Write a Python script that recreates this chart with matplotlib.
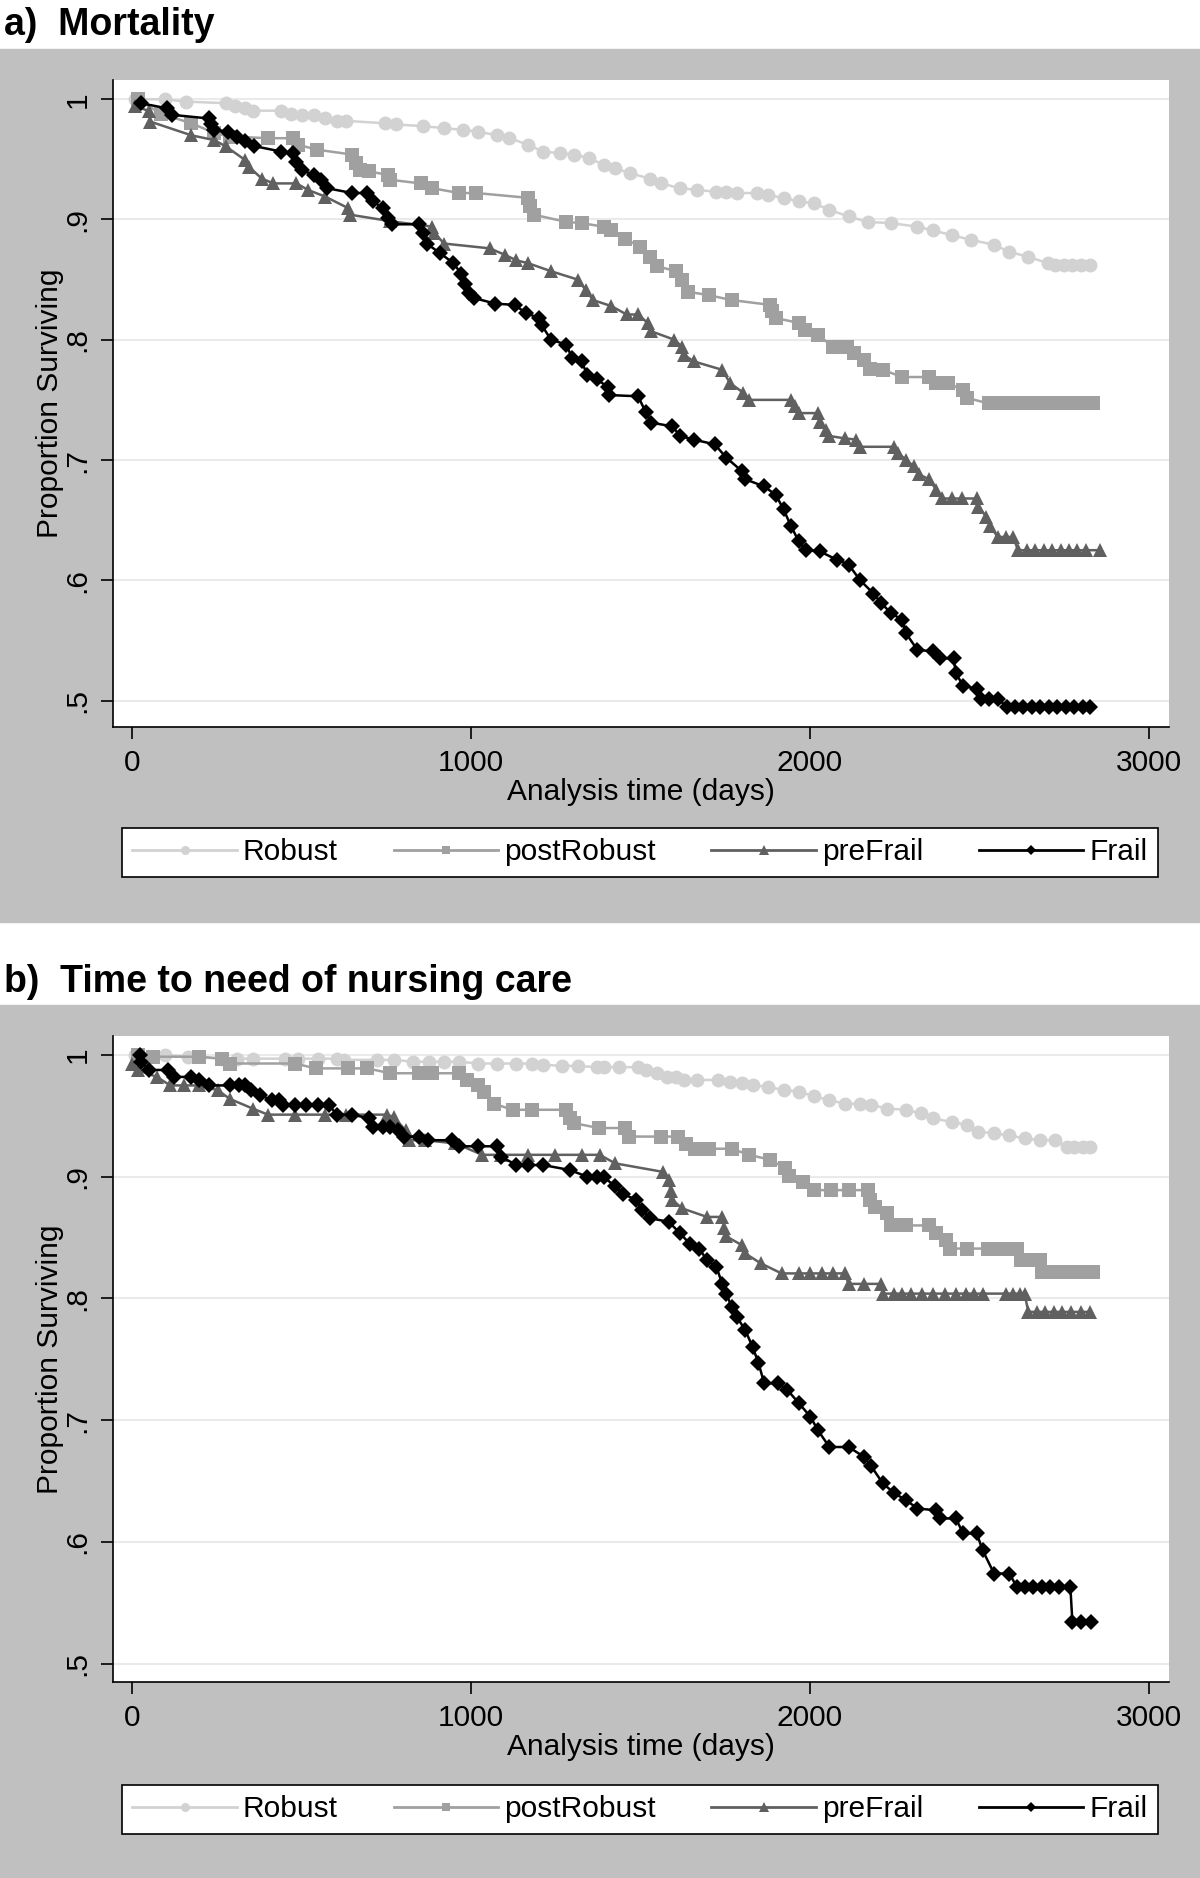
import matplotlib
matplotlib.use("Agg")
import matplotlib.pyplot as plt
from matplotlib.patches import Rectangle
from matplotlib.lines import Line2D

plt.rcParams['font.family'] = ['Liberation Sans', 'DejaVu Sans']

# ---- data ----
labels = ['Robust', 'postRobust', 'preFrail', 'Frail']

# a) Mortality
mort_robust_t = [9, 97, 161, 278, 306, 334, 357, 441, 469, 503, 537, 571, 605, 633, 746, 780, 859, 921, 977,
                 1022, 1079, 1113, 1169, 1214, 1265, 1305, 1350, 1392, 1426, 1471, 1528, 1562, 1618, 1669, 1725,
                 1754, 1787, 1844, 1878, 1923, 1968, 2013, 2058, 2115, 2171, 2239, 2318, 2363, 2419, 2476, 2544,
                 2589, 2645, 2702, 2725, 2750, 2775, 2800, 2826]
mort_robust_s = [1.0, 1.0, .998, .9967, .9945, .9925, .9905, .9905, .988, .987, .987, .984, .982, .982, .980, .979,
                 .9776, .976, .9745, .973, .970, .968, .962, .9565, .955, .954, .951, .9454, .9426, .9385, .934, .930,
                 .926, .9246, .923, .923, .922, .922, .920, .918, .915, .9135, .908, .9025, .898, .897, .894, .891,
                 .887, .883, .879, .873, .869, .8637, .862, .862, .862, .862, .862]

mort_post_t = [18, 86, 176, 244, 289, 402, 475, 492, 548, 650, 661, 673, 700, 757, 763, 853, 887, 966, 1017, 1169,
               1175, 1186, 1282, 1327, 1392, 1415, 1454, 1500, 1528, 1550, 1607, 1624, 1641, 1703, 1770, 1883, 1889,
               1900, 1968, 1985, 2024, 2070, 2109, 2132, 2160, 2177, 2216, 2273, 2352, 2374, 2408, 2453, 2465, 2529,
               2556, 2580, 2605, 2630, 2655, 2680, 2705, 2730, 2755, 2780, 2805, 2836]
mort_post_s = [1.0, .988, .980, .972, .969, .9676, .9676, .962, .958, .954, .947, .941, .940, .937, .933, .930, .926,
               .922, .922, .918, .911, .904, .898, .897, .894, .891, .884, .8775, .869, .861, .857, .850, .840, .837,
               .833, .829, .8235, .818, .814, .808, .804, .794, .794, .789, .783, .776, .775, .769, .769, .764, .764,
               .758, .7515, .747, .747, .747, .747, .747, .747, .747, .747, .747, .747, .747, .747, .747]

mort_pre_t = [9, 52, 55, 176, 244, 278, 334, 345, 384, 418, 486, 520, 571, 639, 644, 763, 887, 893, 921, 1056, 1101,
              1135, 1169, 1237, 1316, 1339, 1361, 1415, 1460, 1494, 1522, 1533, 1601, 1624, 1629, 1658, 1742, 1765,
              1804, 1821, 1945, 1957, 1968, 2024, 2030, 2047, 2058, 2103, 2137, 2149, 2250, 2261, 2284, 2307, 2323,
              2352, 2374, 2391, 2420, 2450, 2493, 2498, 2521, 2532, 2555, 2580, 2600, 2615, 2640, 2665, 2690, 2715,
              2740, 2765, 2790, 2815, 2855]
mort_pre_s = [.9945, .990, .9814, .970, .966, .9607, .9496, .944, .934, .930, .930, .9246, .919, .9094, .904, .8986,
              .894, .889, .880, .876, .8706, .866, .8637, .857, .850, .8415, .833, .828, .821, .821, .814, .807, .800,
              .794, .7875, .782, .775, .764, .756, .750, .750, .745, .739, .739, .732, .725, .720, .718, .717, .711,
              .711, .706, .700, .695, .688, .684, .675, .668, .668, .668, .668, .661, .653, .645, .636, .636, .636,
              .625, .625, .625, .625, .625, .625, .625, .625, .625, .625]

mort_frail_t = [27, 103, 120, 227, 233, 244, 283, 311, 334, 362, 441, 475, 486, 503, 537, 560, 577, 650, 695, 712,
                740, 757, 769, 848, 859, 870, 910, 949, 972, 983, 994, 1011, 1073, 1130, 1164, 1203, 1209, 1237, 1282,
                1299, 1327, 1344, 1372, 1404, 1409, 1494, 1516, 1533, 1595, 1618, 1658, 1720, 1754, 1799, 1810, 1866,
                1900, 1923, 1945, 1968, 1990, 2030, 2081, 2115, 2149, 2188, 2211, 2239, 2273, 2284, 2318, 2363, 2385,
                2425, 2431, 2453, 2493, 2504, 2530, 2555, 2583, 2605, 2630, 2655, 2680, 2705, 2730, 2755, 2780,
                2805, 2826]
mort_frail_s = [.9967, .9925, .987, .984, .979, .9745, .973, .969, .965, .961, .9565, .955, .948, .941, .937, .933,
                .926, .922, .922, .915, .9097, .901, .896, .896, .889, .880, .872, .8637, .855, .846, .839, .8346, .830,
                .829, .822, .818, .8124, .800, .796, .785, .782, .771, .767, .761, .754, .753, .740, .731, .728, .720,
                .717, .713, .702, .691, .684, .678, .671, .659, .645, .6323, .625, .624, .617, .613, .600, .589, .581,
                .573, .567, .556, .542, .541, .535, .535, .523, .512, .510, .501, .501, .501, .495, .495, .495, .495,
                .495, .495, .495, .495, .495, .495, .495]

# b) Time to need of nursing care
care_robust_t = [10, 97, 165, 266, 312, 357, 453, 492, 549, 605, 627, 723, 774, 830, 876, 921, 966, 1023, 1079, 1135,
                 1181, 1214, 1270, 1316, 1372, 1392, 1437, 1494, 1516, 1550, 1579, 1607, 1629, 1669, 1731, 1765, 1799,
                 1832, 1878, 1923, 1968, 2013, 2058, 2103, 2149, 2182, 2228, 2284, 2329, 2363, 2419, 2464, 2498, 2544,
                 2589, 2634, 2679, 2724, 2758, 2780, 2805, 2826]
care_robust_s = [1.0, 1.0, .9986, .997, .997, .997, .997, .997, .997, .997, .996, .996, .996, .9945, .9945, .9945,
                 .9945, .993, .993, .993, .993, .992, .991, .991, .990, .990, .990, .990, .988, .985, .982, .982, .9795,
                 .9795, .9795, .978, .977, .975, .974, .971, .970, .966, .963, .960, .960, .959, .956, .955, .952, .948,
                 .945, .9425, .937, .9356, .934, .9315, .930, .930, .9247, .9247, .9247, .9247]

care_post_t = [18, 63, 199, 266, 289, 481, 543, 639, 695, 763, 848, 887, 966, 989, 1023, 1040, 1068, 1124, 1181, 1282,
               1293, 1305, 1378, 1454, 1466, 1562, 1612, 1635, 1663, 1703, 1770, 1821, 1883, 1928, 1940, 1979, 2013,
               2064, 2115, 2171, 2177, 2194, 2228, 2239, 2260, 2284, 2352, 2374, 2402, 2414, 2464, 2527, 2560, 2578,
               2611, 2623, 2650, 2679, 2685, 2710, 2735, 2760, 2785, 2810, 2837]
care_post_s = [1.0, .9986, .9986, .997, .993, .993, .989, .989, .989, .985, .985, .985, .985, .9795, .9753, .970, .960,
               .955, .955, .955, .948, .944, .940, .940, .933, .933, .933, .927, .923, .923, .923, .918, .914, .907,
               .901, .896, .889, .889, .889, .889, .881, .875, .870, .860, .860, .860, .860, .8535, .848, .841, .841,
               .841, .841, .841, .841, .8316, .8316, .8316, .822, .822, .822, .822, .822, .822, .822]

care_pre_t = [1, 18, 74, 114, 153, 199, 255, 289, 357, 402, 481, 571, 633, 752, 774, 808, 819, 864, 955, 1034, 1090,
              1169, 1248, 1327, 1381, 1426, 1567, 1584, 1590, 1595, 1624, 1697, 1742, 1748, 1754, 1799, 1810, 1855,
              1917, 1968, 2000, 2036, 2070, 2103, 2115, 2160, 2211, 2216, 2250, 2273, 2300, 2330, 2363, 2400, 2431,
              2460, 2485, 2510, 2578, 2600, 2620, 2634, 2645, 2670, 2695, 2720, 2745, 2770, 2800, 2826]
care_pre_s = [.993, .9877, .982, .975, .975, .975, .971, .964, .956, .951, .951, .951, .951, .951, .949, .938, .930,
              .930, .9274, .918, .918, .918, .918, .918, .918, .911, .904, .897, .888, .881, .874, .867, .867, .858,
              .851, .844, .837, .829, .8206, .8206, .8206, .8206, .8206, .8206, .812, .812, .812, .804, .804, .804,
              .804, .804, .804, .804, .804, .804, .804, .804, .804, .804, .804, .804, .789, .789, .789, .789, .789,
              .789, .789, .789]

care_frail_t = [24, 29, 52, 108, 125, 176, 199, 227, 289, 317, 334, 351, 379, 413, 436, 447, 481, 514, 549, 582, 605,
                650, 701, 712, 740, 763, 785, 802, 847, 875, 944, 966, 1023, 1079, 1090, 1135, 1169, 1214, 1293, 1344,
                1372, 1392, 1426, 1449, 1488, 1505, 1528, 1584, 1618, 1646, 1674, 1697, 1725, 1742, 1754, 1770, 1785,
                1810, 1832, 1849, 1866, 1906, 1934, 1968, 2002, 2024, 2058, 2115, 2160, 2182, 2216, 2250, 2284, 2318,
                2374, 2385, 2431, 2453, 2493, 2510, 2544, 2589, 2611, 2635, 2660, 2685, 2710, 2735, 2769, 2775, 2800,
                2831]
care_frail_s = [1.0, .9945, .9877, .9877, .982, .982, .9795, .975, .975, .975, .975, .971, .967, .963, .963, .959,
                .959, .959, .959, .959, .951, .951, .948, .941, .941, .941, .938, .933, .933, .930, .930, .925, .925,
                .925, .9165, .9096, .9096, .9096, .9055, .900, .900, .900, .892, .886, .881, .873, .866, .863, .8535,
                .845, .841, .8316, .826, .812, .804, .793, .785, .774, .760, .747, .7303, .7303, .725, .714, .703, .692,
                .678, .678, .670, .662, .6481, .640, .6344, .6275, .626, .6193, .6193, .607, .607, .5933, .5741, .5741,
                .5632, .5632, .5632, .5632, .5632, .5632, .5632, .5344, .5344, .5344]

yticks = [.5, .6, .7, .8, .9, 1]
ytick_labels = ['.5', '.6', '.7', '.8', '.9', '1']
xticks = [0, 1000, 2000, 3000]

# styles for the four groups
colors = ['#d2d2d2', '#a0a0a0', '#606060', '#000000']
markers = ['o', 's', '^', 'D']
msizes = [10, 9.5, 10.5, 8.5]
BG = '#c0c0c0'
FS = 21.5

fig = plt.figure(figsize=(12, 18.78), dpi=100)

# grey graph regions (behind the axes)
fig.patches.append(Rectangle((0, 0.50905), 1, 0.46486, transform=fig.transFigure, color=BG, zorder=-10))
fig.patches.append(Rectangle((0, 0.0), 1, 0.46486, transform=fig.transFigure, color=BG, zorder=-10))

fig.text(0.003, 1 - 25 / 1878, 'a)  Mortality', fontsize=27, fontweight='bold', va='center', ha='left')
fig.text(0.003, 1 - 982 / 1878, 'b)  Time to need of nursing care', fontsize=27, fontweight='bold',
         va='center', ha='left')


def draw_panel(rect, curves, ylim, legend_rect):
    ax = fig.add_axes(rect)
    ax.set_facecolor('white')
    for (t, s), c, m, ms, lab in zip(curves, colors, markers, msizes, labels):
        ax.plot(t, s, color=c, marker=m, markersize=ms, lw=1.8, label=lab, markeredgewidth=0)
    ax.set_xlim(-55, 3060)
    ax.set_ylim(*ylim)
    ax.set_xticks(xticks)
    ax.set_yticks(yticks)
    ax.set_yticklabels(ytick_labels)
    ax.tick_params(axis='both', length=8.6, width=1.2, labelsize=FS, pad=7)
    ax.tick_params(axis='y', labelrotation=90, pad=7)
    for lab in ax.get_yticklabels():
        lab.set_va('center')
    ax.yaxis.grid(True, color='#eaeaea', lw=1.5)
    ax.set_axisbelow(True)
    for sp in ['top', 'right']:
        ax.spines[sp].set_visible(False)
    for sp in ['left', 'bottom']:
        ax.spines[sp].set_linewidth(1.2)
    ax.text(0.5, -0.1005, 'Analysis time (days)', transform=ax.transAxes, ha='center', va='center', fontsize=FS)
    ax.text(-0.0597, 0.5, 'Proportion Surviving', transform=ax.transAxes, ha='center', va='center',
            rotation=90, fontsize=FS)

    handles = [Line2D([], [], color=c, marker=m, markersize=ms * 0.65, lw=2, markeredgewidth=0)
               for c, m, ms in zip(colors, markers, msizes)]
    leg = fig.legend(handles, labels, loc='center', bbox_to_anchor=legend_rect, mode='expand', ncol=4,
                     fontsize=FS, frameon=True, fancybox=False, edgecolor='black', facecolor='white',
                     framealpha=1, handlelength=3.5, handletextpad=0.2, borderpad=0.35, borderaxespad=0)
    leg.get_frame().set_linewidth(1.2)
    return ax


draw_panel([0.09417, 0.61289, 0.88, 0.34452],
           [(mort_robust_t, mort_robust_s), (mort_post_t, mort_post_s),
            (mort_pre_t, mort_pre_s), (mort_frail_t, mort_frail_s)],
           (0.478, 1.016), (0.10167, 0.5309, 0.86333, 0.03035))

draw_panel([0.09417, 0.10437, 0.88, 0.34398],
           [(care_robust_t, care_robust_s), (care_post_t, care_post_s),
            (care_pre_t, care_pre_s), (care_frail_t, care_frail_s)],
           (0.485, 1.0156), (0.10167, 0.0213, 0.86333, 0.03035))

fig.savefig('out.png', dpi=100, facecolor='white')
